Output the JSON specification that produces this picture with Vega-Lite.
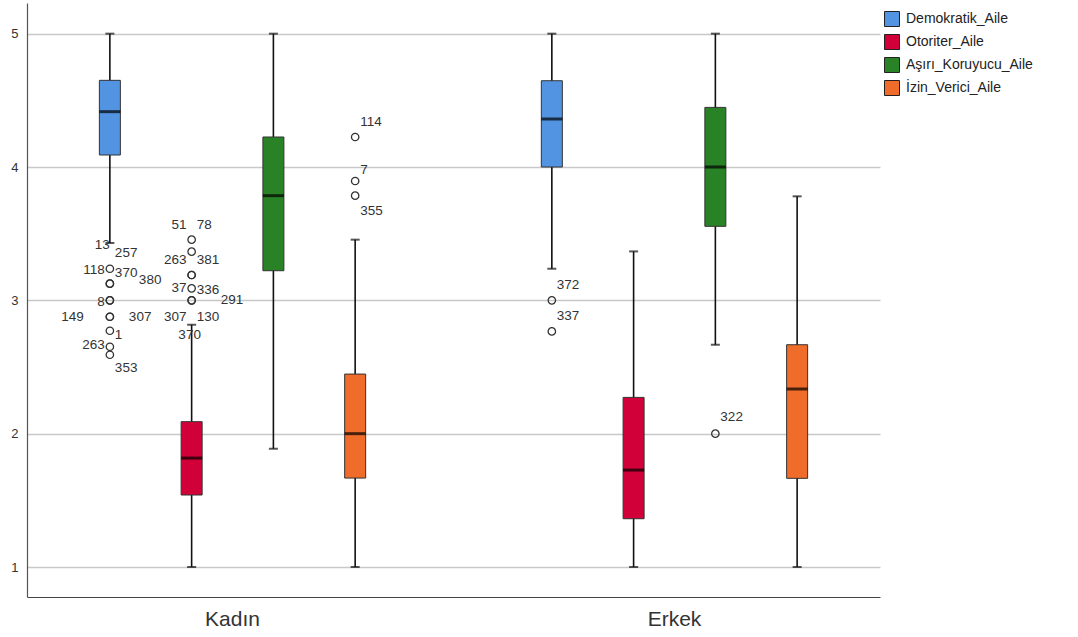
{
  "$schema": "https://vega.github.io/schema/vega-lite/v6.json",
  "width": 853,
  "height": 594,
  "autosize": {"type": "none"},
  "padding": {"left": 27, "top": 3, "right": 198, "bottom": 40},
  "background": "white",
  "config": {
    "view": {"stroke": null},
    "font": "Liberation Sans",
    "text": {"font": "Liberation Sans", "fontSize": 13.5, "color": "#333", "baseline": "middle"}
  },
  "datasets": {
    "boxes": [
      {"group": "Kadın", "series": "Demokratik_Aile", "min": 3.43, "q1": 4.09, "median": 4.415, "q3": 4.65, "max": 5},
      {"group": "Kadın", "series": "Otoriter_Aile", "min": 1.0, "q1": 1.54, "median": 1.817, "q3": 2.09, "max": 2.817},
      {"group": "Kadın", "series": "Aşırı_Koruyucu_Aile", "min": 1.887, "q1": 3.222, "median": 3.785, "q3": 4.225, "max": 5},
      {"group": "Kadın", "series": "İzin_Verici_Aile", "min": 1.0, "q1": 1.667, "median": 2.0, "q3": 2.447, "max": 3.455},
      {"group": "Erkek", "series": "Demokratik_Aile", "min": 3.237, "q1": 4.0, "median": 4.36, "q3": 4.647, "max": 5},
      {"group": "Erkek", "series": "Otoriter_Aile", "min": 1.0, "q1": 1.362, "median": 1.727, "q3": 2.272, "max": 3.367},
      {"group": "Erkek", "series": "Aşırı_Koruyucu_Aile", "min": 2.667, "q1": 3.555, "median": 4.0, "q3": 4.447, "max": 5},
      {"group": "Erkek", "series": "İzin_Verici_Aile", "min": 1.0, "q1": 1.665, "median": 2.335, "q3": 2.667, "max": 3.78}
    ],
    "outliers": [
      {"group": "Kadın", "series": "Demokratik_Aile", "value": 3.237},
      {"group": "Kadın", "series": "Demokratik_Aile", "value": 3.125},
      {"group": "Kadın", "series": "Demokratik_Aile", "value": 3.125},
      {"group": "Kadın", "series": "Demokratik_Aile", "value": 3.0},
      {"group": "Kadın", "series": "Demokratik_Aile", "value": 3.0},
      {"group": "Kadın", "series": "Demokratik_Aile", "value": 2.877},
      {"group": "Kadın", "series": "Demokratik_Aile", "value": 2.877},
      {"group": "Kadın", "series": "Demokratik_Aile", "value": 2.772},
      {"group": "Kadın", "series": "Demokratik_Aile", "value": 2.652},
      {"group": "Kadın", "series": "Demokratik_Aile", "value": 2.592},
      {"group": "Kadın", "series": "Otoriter_Aile", "value": 3.455},
      {"group": "Kadın", "series": "Otoriter_Aile", "value": 3.365},
      {"group": "Kadın", "series": "Otoriter_Aile", "value": 3.19},
      {"group": "Kadın", "series": "Otoriter_Aile", "value": 3.19},
      {"group": "Kadın", "series": "Otoriter_Aile", "value": 3.09},
      {"group": "Kadın", "series": "Otoriter_Aile", "value": 3.0},
      {"group": "Kadın", "series": "Otoriter_Aile", "value": 3.0},
      {"group": "Kadın", "series": "İzin_Verici_Aile", "value": 4.225},
      {"group": "Kadın", "series": "İzin_Verici_Aile", "value": 3.895},
      {"group": "Kadın", "series": "İzin_Verici_Aile", "value": 3.785},
      {"group": "Erkek", "series": "Demokratik_Aile", "value": 3.0},
      {"group": "Erkek", "series": "Demokratik_Aile", "value": 2.767},
      {"group": "Erkek", "series": "Aşırı_Koruyucu_Aile", "value": 2.0}
    ],
    "labels": [
      {"group": "Kadın", "series": "Demokratik_Aile", "id": "13", "at": 3.418, "side": "L0"},
      {"group": "Kadın", "series": "Demokratik_Aile", "id": "257", "at": 3.357, "side": "R"},
      {"group": "Kadın", "series": "Demokratik_Aile", "id": "118", "at": 3.23, "side": "L"},
      {"group": "Kadın", "series": "Demokratik_Aile", "id": "370", "at": 3.207, "side": "R"},
      {"group": "Kadın", "series": "Demokratik_Aile", "id": "380", "at": 3.155, "side": "RRR"},
      {"group": "Kadın", "series": "Demokratik_Aile", "id": "8", "at": 2.99, "side": "L"},
      {"group": "Kadın", "series": "Demokratik_Aile", "id": "149", "at": 2.877, "side": "LL"},
      {"group": "Kadın", "series": "Demokratik_Aile", "id": "307", "at": 2.877, "side": "RR"},
      {"group": "Kadın", "series": "Demokratik_Aile", "id": "1", "at": 2.74, "side": "R"},
      {"group": "Kadın", "series": "Demokratik_Aile", "id": "263", "at": 2.667, "side": "L"},
      {"group": "Kadın", "series": "Demokratik_Aile", "id": "353", "at": 2.494, "side": "R"},
      {"group": "Kadın", "series": "Otoriter_Aile", "id": "51", "at": 3.567, "side": "L"},
      {"group": "Kadın", "series": "Otoriter_Aile", "id": "78", "at": 3.567, "side": "R"},
      {"group": "Kadın", "series": "Otoriter_Aile", "id": "263", "at": 3.305, "side": "L"},
      {"group": "Kadın", "series": "Otoriter_Aile", "id": "381", "at": 3.305, "side": "R"},
      {"group": "Kadın", "series": "Otoriter_Aile", "id": "37", "at": 3.095, "side": "L"},
      {"group": "Kadın", "series": "Otoriter_Aile", "id": "336", "at": 3.08, "side": "R"},
      {"group": "Kadın", "series": "Otoriter_Aile", "id": "291", "at": 3.0, "side": "RRR"},
      {"group": "Kadın", "series": "Otoriter_Aile", "id": "307", "at": 2.877, "side": "L"},
      {"group": "Kadın", "series": "Otoriter_Aile", "id": "130", "at": 2.877, "side": "R"},
      {"group": "Kadın", "series": "Otoriter_Aile", "id": "370", "at": 2.742, "side": "C"},
      {"group": "Kadın", "series": "İzin_Verici_Aile", "id": "114", "at": 4.34, "side": "R"},
      {"group": "Kadın", "series": "İzin_Verici_Aile", "id": "7", "at": 3.98, "side": "R"},
      {"group": "Kadın", "series": "İzin_Verici_Aile", "id": "355", "at": 3.672, "side": "R"},
      {"group": "Erkek", "series": "Demokratik_Aile", "id": "372", "at": 3.117, "side": "R"},
      {"group": "Erkek", "series": "Demokratik_Aile", "id": "337", "at": 2.885, "side": "R"},
      {"group": "Erkek", "series": "Aşırı_Koruyucu_Aile", "id": "322", "at": 2.127, "side": "R"}
    ]
  },
  "encoding": {
    "x": {
      "field": "group", "type": "nominal",
      "scale": {"domain": ["Kadın", "Erkek"], "paddingInner": 0.26, "paddingOuter": 0.095},
      "axis": {"title": null, "labelAngle": 0, "ticks": false, "labelFontSize": 21, "labelColor": "#333", "labelPadding": 11, "domainColor": "#444", "domainWidth": 1.2, "labelFont": "Liberation Sans"}
    },
    "xOffset": {
      "field": "series", "type": "nominal",
      "scale": {"domain": ["Demokratik_Aile", "Otoriter_Aile", "Aşırı_Koruyucu_Aile", "İzin_Verici_Aile"], "paddingInner": 0, "paddingOuter": 0}
    }
  },
  "layer": [
    {
      "data": {"name": "boxes"},
      "mark": {"type": "rule", "color": "#111", "strokeWidth": 1.6},
      "encoding": {
        "y": {
          "field": "min", "type": "quantitative",
          "scale": {"domain": [0.775, 5.23], "nice": false, "zero": false},
          "axis": {"title": null, "values": [1, 2, 3, 4, 5], "format": "d", "grid": true, "gridColor": "#c8c8c8", "gridWidth": 1.5, "ticks": false, "domainColor": "#555", "domainWidth": 1.2, "labelFontSize": 13, "labelColor": "#333", "labelPadding": 9, "labelFont": "Liberation Sans"}
        },
        "y2": {"field": "max"}
      }
    },
    {
      "data": {"name": "boxes"},
      "mark": {"type": "tick", "color": "#111", "size": 9, "thickness": 2},
      "encoding": {"y": {"field": "min", "type": "quantitative"}}
    },
    {
      "data": {"name": "boxes"},
      "mark": {"type": "tick", "color": "#111", "size": 9, "thickness": 2},
      "encoding": {"y": {"field": "max", "type": "quantitative"}}
    },
    {
      "data": {"name": "boxes"},
      "mark": {"type": "bar", "size": 21, "stroke": "#333", "strokeWidth": 1},
      "encoding": {
        "y": {"field": "q1", "type": "quantitative"},
        "y2": {"field": "q3"},
        "color": {
          "field": "series", "type": "nominal",
          "scale": {"domain": ["Demokratik_Aile", "Otoriter_Aile", "Aşırı_Koruyucu_Aile", "İzin_Verici_Aile"], "range": ["#5394e2", "#d20038", "#2a8226", "#f06c2a"]},
          "legend": {
            "title": null, "orient": "none", "legendX": 857, "legendY": 8, "padding": 0,
            "symbolType": "square", "symbolSize": 225, "symbolStrokeColor": "#222", "symbolStrokeWidth": 1,
            "labelFontSize": 14, "labelFont": "Liberation Sans", "labelColor": "#222", "rowPadding": 3, "labelOffset": 6
          }
        }
      }
    },
    {
      "data": {"name": "boxes"},
      "mark": {"type": "tick", "color": "#000", "size": 21, "thickness": 3},
      "encoding": {"y": {"field": "median", "type": "quantitative"}}
    },
    {
      "data": {"name": "outliers"},
      "mark": {"type": "point", "shape": "circle", "filled": false, "stroke": "#333", "strokeWidth": 1.3, "size": 55, "opacity": 1},
      "encoding": {"y": {"field": "value", "type": "quantitative"}}
    },
    {
      "data": {"name": "labels"},
      "transform": [{"filter": {"field": "side", "equal": "L0"}}],
      "mark": {"type": "text", "align": "right", "dx": 0},
      "encoding": {"y": {"field": "at", "type": "quantitative"}, "text": {"field": "id"}}
    },
    {
      "data": {"name": "labels"},
      "transform": [{"filter": {"field": "side", "equal": "L"}}],
      "mark": {"type": "text", "align": "right", "dx": -5},
      "encoding": {"y": {"field": "at", "type": "quantitative"}, "text": {"field": "id"}}
    },
    {
      "data": {"name": "labels"},
      "transform": [{"filter": {"field": "side", "equal": "LL"}}],
      "mark": {"type": "text", "align": "right", "dx": -26},
      "encoding": {"y": {"field": "at", "type": "quantitative"}, "text": {"field": "id"}}
    },
    {
      "data": {"name": "labels"},
      "transform": [{"filter": {"field": "side", "equal": "R"}}],
      "mark": {"type": "text", "align": "left", "dx": 5},
      "encoding": {"y": {"field": "at", "type": "quantitative"}, "text": {"field": "id"}}
    },
    {
      "data": {"name": "labels"},
      "transform": [{"filter": {"field": "side", "equal": "RR"}}],
      "mark": {"type": "text", "align": "left", "dx": 19},
      "encoding": {"y": {"field": "at", "type": "quantitative"}, "text": {"field": "id"}}
    },
    {
      "data": {"name": "labels"},
      "transform": [{"filter": {"field": "side", "equal": "RRR"}}],
      "mark": {"type": "text", "align": "left", "dx": 29},
      "encoding": {"y": {"field": "at", "type": "quantitative"}, "text": {"field": "id"}}
    },
    {
      "data": {"name": "labels"},
      "transform": [{"filter": {"field": "side", "equal": "C"}}],
      "mark": {"type": "text", "align": "center", "dx": -2},
      "encoding": {"y": {"field": "at", "type": "quantitative"}, "text": {"field": "id"}}
    }
  ]
}
